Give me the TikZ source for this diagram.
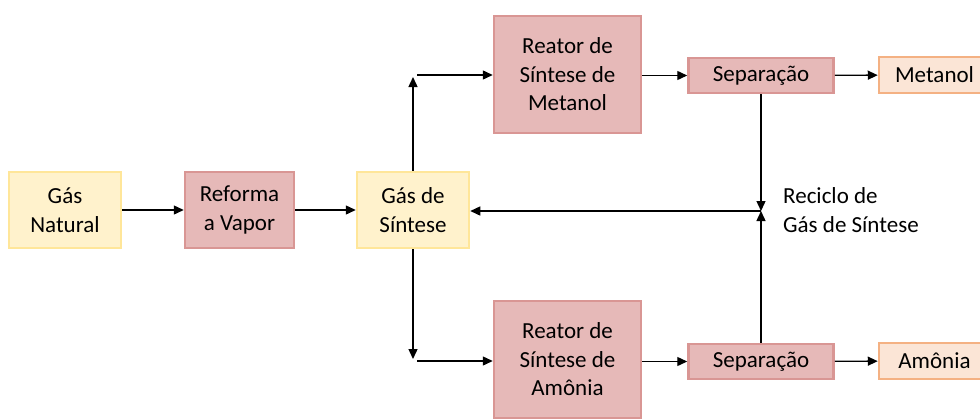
\documentclass[tikz,border=0pt]{standalone}
\usepackage{fontspec}
\setmainfont{Carlito}
\usetikzlibrary{arrows.meta}
\definecolor{pinkfill}{HTML}{E6B9B8}
\definecolor{pinkline}{HTML}{D99694}
\definecolor{yelfill}{HTML}{FFF2CC}
\definecolor{yelline}{HTML}{FFE699}
\definecolor{orfill}{HTML}{FBE5D6}
\definecolor{orline}{HTML}{F4B183}
\begin{document}
\begin{tikzpicture}[x=1pt,y=-1pt,
  every node/.style={font=\fontsize{23}{28.5}\selectfont, align=center, inner sep=0pt},
  box/.style={draw, line width=2.5pt, minimum width=#1},
  yelbox/.style={box=112, fill=yelfill, draw=yelline, minimum height=76},
  pinkbox/.style={box=#1, fill=pinkfill, draw=pinkline},
  orbox/.style={box=111, fill=orfill, draw=orline, minimum height=36},
  conn/.style={line width=1.4pt, -{Triangle[length=10pt,width=9pt]}},
  plain/.style={line width=1.4pt}]
\useasboundingbox (0,0) rectangle (980,418);
\node[yelbox] (gn) at (65,210) {Gás\\Natural};
\node[pinkbox=109, minimum height=76] (rv) at (239.5,210) {Reforma\\a Vapor};
\node[yelbox] (gs) at (413,210) {Gás de\\Síntese};
\node[pinkbox=147, minimum height=117] (rm) at (567.5,74.5) {Reator de\\Síntese de\\Metanol};
\node[pinkbox=145, minimum height=35] (s1) at (761,75.5) {Separação};
\node[orbox] (me) at (934.5,75) {Metanol};
\node[pinkbox=147, minimum height=117] (ra) at (567.5,359.5) {Reator de\\Síntese de\\Amônia};
\node[pinkbox=145, minimum height=35] (s2) at (761,361.5) {Separação};
\node[orbox] (am) at (934.5,361) {Amônia};
\node[anchor=west, align=left] (rec) at (783,210) {Reciclo de\\Gás de Síntese};
\coordinate (up) at (413,77);
\coordinate (upr) at (417,75);
\coordinate (dn) at (413,359);
\coordinate (dnr) at (417,361);
\coordinate (j) at (761,211);
\draw[conn] (gn) -- (rv);
\draw[conn] (rv) -- (gs);
\draw[conn] (gs.north) -- (up);
\draw[conn] (upr) -- (upr -| rm.west);
\draw[conn] (gs.south) -- (dn);
\draw[conn] (dnr) -- (dnr -| ra.west);
\draw[conn] (rm.east |- s1) -- (s1);
\draw[conn] (s1) -- (me);
\draw[conn] (ra.east |- s2) -- (s2);
\draw[conn] (s2) -- (am);
\draw[conn] (s1.south) -- (j);
\draw[conn] (s2.north) -- (j);
\draw[conn] (j) -- (j -| gs.east);
\end{tikzpicture}
\end{document}
